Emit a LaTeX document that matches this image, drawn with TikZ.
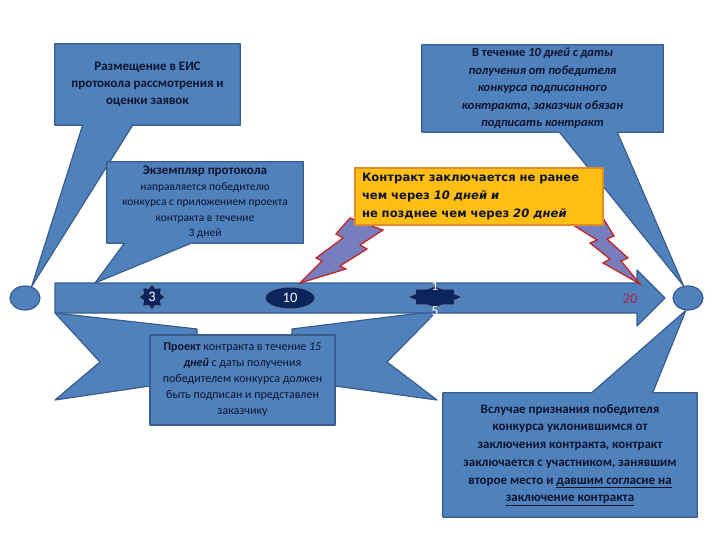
\documentclass[tikz,border=0pt]{standalone}
\usepackage{fontspec}
\setmainfont{Carlito}
\newfontfamily\notefont{DejaVu Sans}
\usepackage{tikz}
\usetikzlibrary{shapes.geometric, calc, backgrounds}

\definecolor{callblue}{RGB}{79,129,189}
\definecolor{callline}{RGB}{56,93,138}
\definecolor{navy}{RGB}{12,36,92}
\definecolor{boltfill}{RGB}{118,126,190}
\definecolor{boltline}{RGB}{200,30,30}
\definecolor{noteorange}{RGB}{255,190,20}
\definecolor{noteline}{RGB}{225,140,40}
\definecolor{inktext}{RGB}{15,20,45}
\definecolor{daymark}{RGB}{170,40,70}

\begin{document}
\begin{tikzpicture}[
    x=1pt, y=-1pt,
    every node/.style={text=inktext, align=center, inner sep=0pt},
    textbox/.style 2 args={rectangle, minimum width=#1, minimum height=#2},
    callout/.style={fill=callblue, draw=callline, line width=1.2pt, line join=round},
    joint/.style={ellipse, fill=callblue, draw=callline, line width=1.2pt, minimum width=30, minimum height=24},
    marker/.style={fill=navy, draw=callline!80, line width=1pt, text=white, font=\fontsize{14.5}{16}\selectfont},
    bolt/.style={fill=boltfill, draw=boltline, line width=1.2pt, line join=miter}
]
\useasboundingbox (0,0) rectangle (720,540);

\node[textbox={185}{81}, font=\bfseries\fontsize{13}{17}\selectfont] (eis) at (147.5,84.5)
    {Размещение в ЕИС\\протокола рассмотрения и\\оценки заявок};
\node[textbox={241}{87}, font=\bfseries\fontsize{12.5}{17.5}\selectfont] (sign10) at (542.5,88.5)
    {В течение \textit{10 дней с даты}\\\textit{получения от победителя}\\\textit{конкурса подписанного}\\\textit{контракта, заказчик обязан}\\\textit{подписать контракт}};
\node[textbox={196}{81}, font=\fontsize{11.5}{15.5}\selectfont] (copy) at (205,202.5)
    {{\bfseries\fontsize{13}{15.5}\selectfont Экземпляр протокола}\\направляется победителю\\конкурса с приложением проекта\\контракта в течение\\3 дней};
\node[textbox={248}{57}, fill=noteorange, draw=noteline, line width=1.2pt, text width=234, align=left,
    font=\notefont\bfseries\fontsize{11.6}{18}\selectfont] (term) at (479,196.5)
    {Контракт заключается не ранее\\чем через \textit{10 дней и}\\не позднее чем через \textit{20 дней}};
\node[textbox={185}{90}, callout, font=\fontsize{12}{16}\selectfont] (draft) at (242.5,380)
    {\textbf{Проект} контракта в течение \textit{15}\\\textbf{\textit{дней}} с даты получения\\победителем конкурса должен\\быть подписан и представлен\\заказчику};
\node[textbox={254}{124}, font=\bfseries\fontsize{13}{17.7}\selectfont] (evade) at (570,455)
    {Вслучае признания победителя\\конкурса уклонившимся от\\заключения контракта, контракт\\заключается с участником, занявшим\\второе место и \underline{давшим согласие на}\\\underline{заключение контракта}};

\node[joint] (lc) at (25,298) {};
\node[joint] (rc) at (688,298) {};

\node[marker, star, star points=8, star point ratio=1.4, minimum size=26] (m3) at (152,297) {3};
\node[marker, ellipse, minimum width=50, minimum height=22] (m10) at (290,298) {10};
\begin{scope}[shift={(435,297)}]
\node[marker, star, star points=8, star point ratio=1.3, minimum size=22, xscale=2.5, transform shape] (m15) at (0,0) {};
\end{scope}
\node[text=white, font=\fontsize{14}{25}\selectfont] (n15) at (435,299) {1\\5};
\node[text=daymark, font=\fontsize{14.5}{16}\selectfont] (d20) at (630,299) {20};

\begin{scope}[on background layer]
\draw[callout] (55,313) -- (197,329) -- (197,380) -- (150,386) -- (55,400) -- (100,362) -- cycle;
\draw[callout] (437,311) -- (292,329) -- (292,380) -- (335,386) -- (437,400) -- (387,362) -- cycle;

\draw[callout] (55,283) -- (637,283) -- (637,270) -- (665,298) -- (637,326) -- (637,313) -- (55,313) -- cycle;
\coordinate (t1) at (95,283);

\draw[callout] (eis.north west) -- (eis.north east) -- (eis.south east)
    -- ($(eis.south west)!0.42!(eis.south east)$) -- (lc.60)
    -- ($(eis.south west)!0.15!(eis.south east)$) -- (eis.south west) -- cycle;
\draw[callout] (sign10.north west) -- (sign10.north east) -- (sign10.south east)
    -- ($(sign10.south west)!0.81!(sign10.south east)$) -- (rc.110)
    -- ($(sign10.south west)!0.57!(sign10.south east)$) -- (sign10.south west) -- cycle;
\draw[callout] (copy.north west) -- (copy.north east) -- (copy.south east)
    -- ($(copy.south west)!0.43!(copy.south east)$) -- (t1)
    -- ($(copy.south west)!0.09!(copy.south east)$) -- (copy.south west) -- cycle;
\draw[callout] (evade.south west) -- (evade.north west)
    -- ($(evade.north west)!0.585!(evade.north east)$) -- (rc.260)
    -- ($(evade.north west)!0.825!(evade.north east)$) -- (evade.north east) -- (evade.south east) -- cycle;

\draw[bolt] (350,218) -- (383,230) -- (360,245) -- (367,249) -- (340,266) -- (346,269) -- (300,283)
    -- (322,261) -- (316,258) -- (343,238) -- (336,234) -- cycle;
\draw[bolt] (573,225) -- (600,213) -- (614,236) -- (607,239) -- (628,258) -- (621,261) -- (640,284)
    -- (603,263) -- (610,259) -- (590,243) -- (597,240) -- cycle;
\end{scope}
\end{tikzpicture}
\end{document}
